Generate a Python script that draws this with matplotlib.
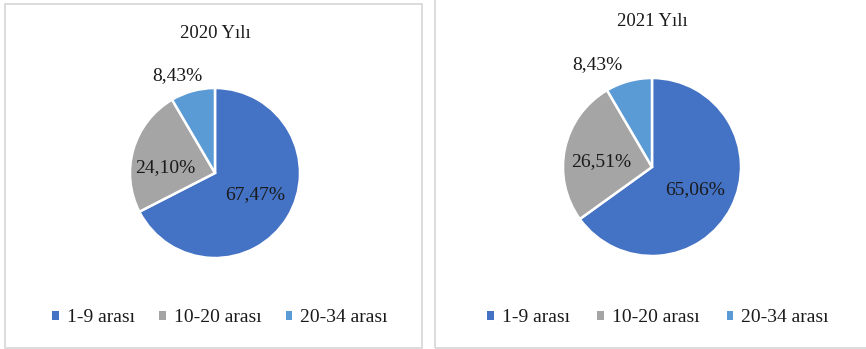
import matplotlib
matplotlib.use("Agg")
import matplotlib.pyplot as plt
import numpy as np
from matplotlib.patches import Rectangle

# data
categories = ["1-9 arası", "10-20 arası", "20-34 arası"]
titles = ["2020 Yılı", "2021 Yılı"]
values_2020 = [67.47, 24.10, 8.43]
values_2021 = [65.06, 26.51, 8.43]
colors = ["#4472C4", "#A5A5A5", "#5B9BD5"]

W, H = 866, 349
plt.rcParams["font.family"] = ["Liberation Serif", "DejaVu Serif"]

fig = plt.figure(figsize=(W / 100, H / 100), dpi=100)
fig.patch.set_facecolor("white")


def px_box(x0, y0, w, h):
    # pixel box (top-left origin) -> figure fraction
    return [x0 / W, 1 - (y0 + h) / H, w / W, h / H]


# panel borders
for (x0, y0, x1, y1) in [(5, 4, 422, 348), (435, -5, 875, 348)]:
    fig.add_artist(Rectangle((x0 / W, 1 - y1 / H), (x1 - x0) / W, (y1 - y0) / H,
                             transform=fig.transFigure, fill=False,
                             edgecolor="#D9D9D9", linewidth=1.3))

panels = [
    dict(vals=values_2020, title=titles[0], cx=215, cy=173, r=85, ty=33,
         lab=[(0.47, -0.25), (-0.58, 0.06), (-0.44, 1.15)], leg_x=220, colsp=1.25),
    dict(vals=values_2021, title=titles[1], cx=652, cy=167, r=89, ty=22,
         lab=[(0.48, -0.25), (-0.57, 0.06), (-0.61, 1.15)], leg_x=658, colsp=1.4),
]

for p in panels:
    r = p["r"]
    ax = fig.add_axes(px_box(p["cx"] - r, p["cy"] - r, 2 * r, 2 * r))
    wedges, _ = ax.pie(p["vals"], colors=colors, startangle=90, counterclock=False,
                       wedgeprops=dict(edgecolor="white", linewidth=1.8))
    ax.set_xlim(-1, 1)
    ax.set_ylim(-1, 1)
    ax.set_aspect("equal")
    ax.axis("off")
    for v, (lx, ly) in zip(p["vals"], p["lab"]):
        ax.text(lx, ly, f"{v:.2f}%".replace(".", ","), ha="center", va="center",
                fontsize=14, color="#1a1a1a", clip_on=False)

    fig.text(p["cx"] / W, 1 - p["ty"] / H, p["title"], ha="center", va="center",
             fontsize=13.5, color="#1a1a1a")

    handles = [Rectangle((0, 0), 1, 1, facecolor=c, edgecolor="none") for c in colors]
    fig.legend(handles, categories, loc="center",
               bbox_to_anchor=(p["leg_x"] / W, 1 - 318 / H), ncol=3, frameon=False,
               fontsize=14, handlelength=0.35, handleheight=0.35, handletextpad=0.4,
               columnspacing=p["colsp"], labelcolor="#1a1a1a")

fig.savefig("out.png", dpi=100, facecolor="white")
